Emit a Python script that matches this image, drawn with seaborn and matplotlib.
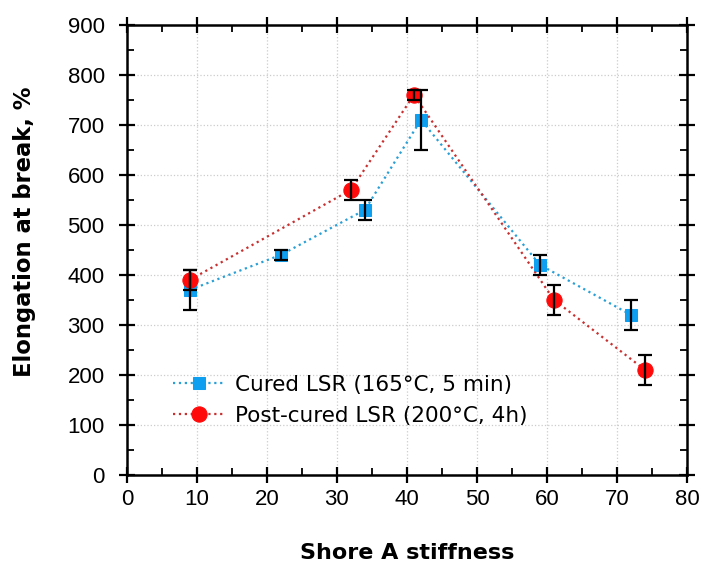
import numpy as np
import pandas as pd
import seaborn as sns
import matplotlib.pyplot as plt
from matplotlib.ticker import MultipleLocator

# Data
cured_x = [9, 22, 34, 42, 59, 72]
cured_y = [370, 440, 530, 710, 420, 320]
cured_err = [40, 10, 20, 60, 20, 30]

post_x = [9, 32, 41, 61, 74]
post_y = [390, 570, 760, 350, 210]
post_err = [20, 20, 10, 30, 30]

labels = ['Cured LSR (165°C, 5 min)', 'Post-cured LSR (200°C, 4h)']

sns.set_style('ticks')
plt.rcParams['font.family'] = ['Liberation Sans', 'DejaVu Sans']
plt.rcParams['text.color'] = 'black'
plt.rcParams['axes.labelcolor'] = 'black'
plt.rcParams['xtick.color'] = 'black'
plt.rcParams['ytick.color'] = 'black'

fig = plt.figure(figsize=(7.01, 5.64), dpi=100)
ax = fig.add_axes([0.181, 0.158, 0.799, 0.798])

blue_line = '#2a9fd6'
blue_mark = '#0e9ff0'
red_line = '#c83030'
red_mark = '#ff0a0a'

sns.lineplot(x=cured_x, y=cured_y, ax=ax, color=blue_line, linestyle=':', lw=1.6,
             marker='s', markersize=9, markerfacecolor=blue_mark, markeredgecolor=blue_mark,
             label=labels[0], zorder=3, sort=False)
sns.lineplot(x=post_x, y=post_y, ax=ax, color=red_line, linestyle=':', lw=1.6,
             marker='o', markersize=11, markerfacecolor=red_mark, markeredgecolor=red_mark,
             label=labels[1], zorder=3, sort=False)

# Error bars on top of markers
ax.errorbar(cured_x, cured_y, yerr=cured_err, fmt='none', ecolor='black',
            elinewidth=1.6, capsize=5, capthick=1.6, zorder=4)
ax.errorbar(post_x, post_y, yerr=post_err, fmt='none', ecolor='black',
            elinewidth=1.6, capsize=5, capthick=1.6, zorder=4)

ax.set_xlim(0, 80)
ax.set_ylim(0, 900)
ax.xaxis.set_major_locator(MultipleLocator(10))
ax.xaxis.set_minor_locator(MultipleLocator(5))
ax.yaxis.set_major_locator(MultipleLocator(100))
ax.yaxis.set_minor_locator(MultipleLocator(50))

for s in ax.spines.values():
    s.set_visible(True)
    s.set_linewidth(1.8)
    s.set_color('black')

ax.tick_params(which='major', direction='inout', length=12, width=1.6,
               top=True, right=True, labelsize=16, pad=4)
ax.tick_params(axis='y', which='major', pad=10)
ax.tick_params(which='minor', direction='in', length=5, width=1.3,
               top=True, right=True)

ax.grid(True, which='major', linestyle=':', color='#cccccc', lw=0.9, zorder=0)

ax.set_xlabel('Shore A stiffness', fontsize=16, fontweight='bold', family='DejaVu Sans')
ax.set_ylabel('Elongation at break, %', fontsize=16.3, fontweight='bold', family='DejaVu Sans')
ax.xaxis.set_label_coords(0.5, -0.152)
ax.yaxis.set_label_coords(-0.162, 0.54)

leg = ax.legend(loc='lower left', bbox_to_anchor=(0.0675, 0.09), frameon=False,
                prop={'family': 'DejaVu Sans', 'size': 15.5}, handlelength=2.4,
                handletextpad=0.45, labelspacing=0.5, borderaxespad=0)

fig.savefig('out.png', dpi=100)
